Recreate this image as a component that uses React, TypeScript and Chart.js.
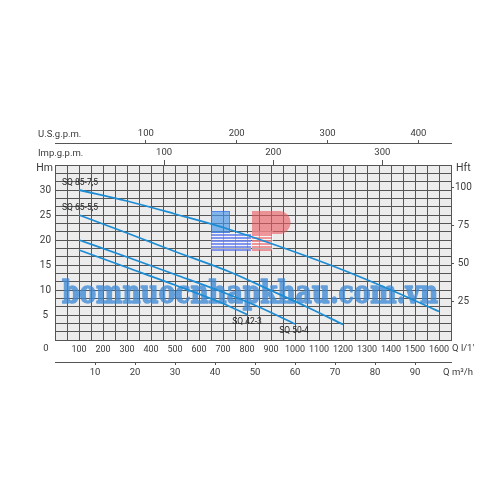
import React, { useEffect, useRef } from "react";
import { Chart, registerables } from "chart.js";

Chart.register(...registerables);

// ---- Data (flow in l/min, head in m) ----
const seriesNames = ["SQ 85-7,5", "SQ 65-5,5", "SQ 50-4", "SQ 42-3"];
const flow85 = [100, 300, 500, 727, 1000, 1200, 1400, 1600];
const head85 = [30, 27.8, 25.2, 22.1, 17.6, 14.0, 10.0, 5.7];
const flow65 = [100, 300, 500, 729, 900, 1050, 1200];
const head65 = [25, 21.4, 17.7, 13.6, 9.9, 6.6, 3.1];
const flow50 = [100, 300, 500, 729, 850, 1000];
const head50 = [20, 16.6, 13.1, 9.0, 6.6, 3.2];
const flow42 = [100, 300, 500, 700, 800];
const head42 = [18, 14.5, 11.0, 7.3, 5.1];

// ---- Tick labels ----
const lpmLabels = [100, 200, 300, 400, 500, 600, 700, 800, 900, 1000, 1100, 1200, 1300, 1400, 1500, 1600];
const m3hLabels = [10, 20, 30, 40, 50, 60, 70, 80, 90];
const usGpmLabels = [100, 200, 300, 400];
const impGpmLabels = [100, 200, 300];
const hmLabels = [5, 10, 15, 20, 25, 30];
const hftLabels = [25, 50, 75, 100];

// ---- Axis ranges / grid ----
const Q_MAX = 1650;
const Q_GRID = 50;
const H_MAX = 35;
const H_ROWS = 21;

const LPM_PER_USGPM = 3.78541;
const LPM_PER_IMPGPM = 4.54609;
const LPM_PER_M3H = 1000 / 60;
const M_PER_FT = 0.3048;

const FONT = "Roboto, 'Liberation Sans', sans-serif";
const TXT = "#3a3a3a";
const GRID = "#555";
const LINE = "rgb(28,140,212)";

export default function App() {
  const ref = useRef<HTMLCanvasElement>(null);

  useEffect(() => {
    const canvas = ref.current!;
    const pts = (f: number[], h: number[]) => f.map((x, i) => ({ x, y: h[i] }));
    const mkDs = (label: string, f: number[], h: number[]) => ({
      label,
      data: pts(f, h),
      borderColor: LINE,
      backgroundColor: LINE,
      borderWidth: 1.8,
      pointRadius: 0,
      fill: false,
      tension: 0.3,
      cubicInterpolationMode: "monotone" as const,
      xAxisID: "x",
      yAxisID: "y",
    });

    const font = (size: number) => ({ family: FONT, size });

    const decor = {
      id: "decor",
      beforeDraw(chart: any) {
        const { ctx, chartArea: a } = chart;
        ctx.save();
        ctx.fillStyle = "#ececec";
        ctx.fillRect(a.left, a.top, a.right - a.left, a.bottom - a.top);
        ctx.restore();
      },
      beforeDatasetsDraw(chart: any) {
        const { ctx } = chart;
        ctx.save();
        // logo (HP)
        ctx.fillStyle = "rgba(255,255,255,0.55)";
        ctx.fillRect(211, 233, 40, 17);
        ctx.fillRect(252, 231, 21, 19);
        ctx.fillStyle = "rgba(70,150,235,0.65)";
        ctx.fillRect(211, 211, 19, 22);
        ctx.strokeStyle = "rgba(60,110,230,0.65)";
        ctx.lineWidth = 1;
        ctx.strokeRect(211.5, 211.5, 18, 21);
        ctx.fillStyle = "rgba(70,100,235,0.65)";
        for (let i = 0; i < 6; i++) ctx.fillRect(211, 234 + i * 3, 40, 2);
        ctx.fillStyle = "rgba(232,90,95,0.62)";
        ctx.beginPath();
        ctx.moveTo(252, 211);
        ctx.lineTo(279, 211);
        ctx.arc(279, 222.5, 11.5, -Math.PI / 2, Math.PI / 2);
        ctx.lineTo(252, 234);
        ctx.closePath();
        ctx.fill();
        for (let i = 0; i < 6; i++) ctx.fillRect(252, 234 + i * 3, 20, 2);
        ctx.restore();

        // watermark text, rendered opaque offscreen then blended
        const wm = "bomnuocnhapkhau.com.vn";
        const off = document.createElement("canvas");
        off.width = 500;
        off.height = 60;
        const o = off.getContext("2d")!;
        o.font = "bold 31px 'DejaVu Serif', serif";
        const w = o.measureText(wm).width;
        const target = 376;
        o.translate(62, 44);
        o.scale(target / w, 1);
        o.fillStyle = "rgb(62,138,214)";
        o.strokeStyle = "rgb(62,138,214)";
        o.lineWidth = 1.6;
        o.lineJoin = "round";
        o.textBaseline = "alphabetic";
        o.fillText(wm, 0, 0);
        o.strokeText(wm, 0, 0);
        ctx.save();
        ctx.globalAlpha = 0.78;
        ctx.drawImage(off, 0, 303 - 44);
        ctx.restore();
      },
      afterDatasetsDraw(chart: any) {
        const { ctx, scales } = chart;
        const px = (q: number) => scales.x.getPixelForValue(q);
        const py = (h: number) => scales.y.getPixelForValue(h);
        ctx.save();
        ctx.fillStyle = "#222";
        ctx.font = `8.5px ${FONT}`;
        ctx.textBaseline = "middle";
        ctx.textAlign = "left";
        ctx.fillText(seriesNames[0], px(flow85[0]) - 17, py(head85[0]) - 7);
        ctx.fillText(seriesNames[1], px(flow65[0]) - 17, py(head65[0]) - 7);
        ctx.textAlign = "center";
        ctx.fillText(seriesNames[2], px(flow50[flow50.length - 1]) - 1, py(head50[head50.length - 1]) + 7);
        ctx.fillText(seriesNames[3], px(flow42[flow42.length - 1]), py(head42[head42.length - 1]) + 7.5);
        ctx.restore();
      },
      afterDraw(chart: any) {
        const { ctx, chartArea: a } = chart;
        ctx.save();
        ctx.fillStyle = TXT;
        ctx.textBaseline = "middle";
        ctx.font = `9.5px ${FONT}`;
        ctx.textAlign = "left";
        ctx.fillText("U.S.g.p.m.", 38, a.top - 30);
        ctx.fillText("Imp.g.p.m.", 38, a.top - 11);
        ctx.fillText("Q l/1'", a.right + 1, a.bottom + 9);
        ctx.fillText("Q m\u00B3/h", a.right - 8, a.bottom + 33);
        ctx.textAlign = "center";
        ctx.fillText("0", 46, a.bottom + 9);
        ctx.font = `10.5px ${FONT}`;
        ctx.textAlign = "right";
        ctx.fillText("Hm", 53, a.top + 3);
        ctx.textAlign = "left";
        ctx.fillText("Hft", a.right + 5, a.top + 3);
        ctx.restore();
      },
    };

    const xGrid: number[] = [];
    for (let q = 0; q <= Q_MAX; q += Q_GRID) xGrid.push(q);
    const yGrid: number[] = [];
    for (let i = 0; i <= H_ROWS; i++) yGrid.push((i * H_MAX) / H_ROWS);

    const chart = new Chart(canvas, {
      type: "line",
      data: {
        datasets: [
          mkDs(seriesNames[0], flow85, head85),
          mkDs(seriesNames[1], flow65, head65),
          mkDs(seriesNames[2], flow50, head50),
          mkDs(seriesNames[3], flow42, head42),
        ],
      },
      options: {
        animation: false,
        responsive: false,
        devicePixelRatio: 1,
        layout: { padding: { top: 125, bottom: 115, left: 0, right: 0 } },
        plugins: { legend: { display: false }, tooltip: { enabled: false } },
        scales: {
          x: {
            type: "linear",
            position: "bottom",
            weight: 0,
            min: 0,
            max: Q_MAX,
            afterBuildTicks: (s: any) => { s.ticks = xGrid.map((v) => ({ value: v })); },
            afterFit: (s: any) => { s.height = 22; },
            ticks: {
              autoSkip: false,
              maxRotation: 0,
              padding: 4,
              color: TXT,
              font: font(9),
              callback: (v: any) => (lpmLabels.includes(Number(v)) ? String(v) : ""),
            },
            grid: { color: GRID, lineWidth: 1, drawTicks: false },
            border: { color: GRID },
          },
          m3h: {
            type: "linear",
            position: "bottom",
            weight: 1,
            min: 0,
            max: Q_MAX / LPM_PER_M3H,
            afterBuildTicks: (s: any) => { s.ticks = m3hLabels.map((v) => ({ value: v })); },
            afterFit: (s: any) => { s.height = 23; },
            ticks: { autoSkip: false, maxRotation: 0, padding: 2, color: TXT, font: font(9.5) },
            grid: { drawOnChartArea: false, drawTicks: true, tickLength: 3, color: GRID },
            border: { color: GRID },
          },
          imp: {
            type: "linear",
            position: "top",
            weight: 0,
            min: 0,
            max: Q_MAX / LPM_PER_IMPGPM,
            afterBuildTicks: (s: any) => { s.ticks = impGpmLabels.map((v) => ({ value: v })); },
            afterFit: (s: any) => { s.height = 22; },
            ticks: { autoSkip: false, maxRotation: 0, padding: 2, color: TXT, font: font(9.5) },
            grid: { drawOnChartArea: false, drawTicks: true, tickLength: 5, color: GRID },
            border: { display: false },
          },
          us: {
            type: "linear",
            position: "top",
            weight: 1,
            min: 0,
            max: Q_MAX / LPM_PER_USGPM,
            afterBuildTicks: (s: any) => { s.ticks = usGpmLabels.map((v) => ({ value: v })); },
            afterFit: (s: any) => { s.height = 18; },
            ticks: { autoSkip: false, maxRotation: 0, padding: 1, color: TXT, font: font(9.5) },
            grid: { drawOnChartArea: false, drawTicks: true, tickLength: 3, color: GRID },
            border: { color: GRID },
          },
          y: {
            type: "linear",
            position: "left",
            min: 0,
            max: H_MAX,
            afterBuildTicks: (s: any) => { s.ticks = yGrid.map((v) => ({ value: v })); },
            afterFit: (s: any) => { s.width = 55; },
            ticks: {
              autoSkip: false,
              padding: 4,
              crossAlign: "center",
              color: TXT,
              font: font(10),
              callback: (v: any) => {
                const r = Math.round(Number(v));
                return Math.abs(Number(v) - r) < 1e-6 && hmLabels.includes(r) ? String(r) : "";
              },
            },
            grid: { color: GRID, lineWidth: 1, drawTicks: false },
            border: { color: GRID },
          },
          ft: {
            type: "linear",
            position: "right",
            min: 0,
            max: H_MAX / M_PER_FT,
            afterBuildTicks: (s: any) => { s.ticks = hftLabels.map((v) => ({ value: v })); },
            afterFit: (s: any) => { s.width = 49; },
            ticks: { autoSkip: false, padding: 1, crossAlign: "center", color: TXT, font: font(10) },
            grid: { drawOnChartArea: false, drawTicks: true, tickLength: 3, color: GRID },
            border: { color: GRID },
          },
        },
      } as any,
      plugins: [decor],
    });

    return () => chart.destroy();
  }, []);

  return (
    <div style={{ position: "fixed", left: 0, top: 0, width: 500, height: 500, background: "#fff" }}>
      <canvas ref={ref} width={500} height={500} style={{ width: 500, height: 500, display: "block" }} />
    </div>
  );
}
